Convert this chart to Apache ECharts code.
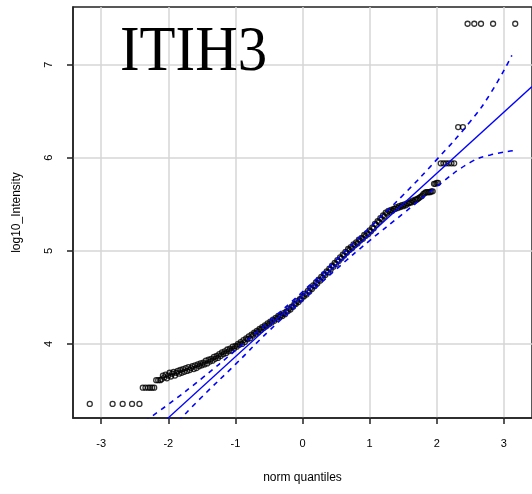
<!DOCTYPE html>
<html>
<head>
<meta charset="utf-8">
<script src="https://cdn.jsdelivr.net/npm/echarts@6/dist/echarts.min.js"></script>
<style>html,body{margin:0;padding:0;background:#fff}#c{width:532px;height:494px}</style>
</head>
<body>
<div id="c"></div>
<script>
// Theoretical normal quantiles (x) and sample values (y)
var qx = [-3.17,-2.83,-2.68,-2.54,-2.43,
  -2.38,-2.34,-2.30,-2.27,-2.24,-2.21,-2.18,-2.15,-2.12,
  -2.10,-2.08,-2.06,-2.04,-2.02,-2.00,-1.98,-1.96,-1.94,-1.92,-1.90,-1.88,-1.86,-1.84,-1.82,-1.80,-1.78,-1.76,-1.74,-1.72,
  -1.70,-1.68,-1.66,-1.64,-1.62,-1.60,-1.58,-1.56,-1.54,-1.52,-1.50,-1.48,-1.46,-1.44,-1.42,-1.40,-1.38,-1.36,-1.34,-1.32,
  -1.30,-1.28,-1.26,-1.24,-1.22,-1.20,-1.18,-1.16,-1.14,-1.12,-1.10,-1.08,-1.06,-1.04,-1.02,-1.00,
  -0.98,-0.96,-0.94,-0.92,-0.90,-0.88,-0.86,-0.84,-0.82,-0.80,-0.78,-0.76,-0.74,-0.72,-0.70,-0.68,-0.66,-0.64,-0.62,-0.60,
  -0.58,-0.56,-0.54,-0.52,-0.50,-0.48,-0.46,-0.44,-0.42,-0.40,-0.38,-0.36,-0.34,-0.32,-0.30,-0.28,-0.26,-0.24,-0.22,-0.20,
  -0.18,-0.16,-0.14,-0.12,-0.10,-0.08,-0.06,-0.04,-0.02,0.00,
  0.02,0.04,0.06,0.08,0.10,0.12,0.14,0.16,0.18,0.20,0.22,0.24,0.26,0.28,0.30,0.32,0.34,0.36,0.38,0.40,
  0.42,0.44,0.46,0.48,0.50,0.52,0.54,0.56,0.58,0.60,0.62,0.64,0.66,0.68,0.70,0.72,0.74,0.76,0.78,0.80,
  0.82,0.84,0.86,0.88,0.90,0.92,0.94,0.96,0.98,1.00,
  1.02,1.04,1.06,1.08,1.10,1.12,1.14,1.16,1.18,1.20,1.22,1.24,1.26,1.28,1.30,1.32,1.34,1.36,1.38,1.40,
  1.42,1.44,1.46,1.48,1.50,1.52,1.54,1.56,1.58,1.60,1.62,1.64,1.66,1.68,1.70,1.72,1.74,1.76,1.78,1.80,
  1.82,1.84,1.86,1.88,1.90,1.92,1.94,1.96,1.98,2.00,2.02,
  2.06,2.10,2.14,2.18,2.22,2.26,2.32,2.39,2.46,2.56,2.66,2.84,3.17];
var qy = [3.355,3.355,3.355,3.355,3.355,
  3.53,3.53,3.53,3.53,3.53,3.53,3.61,3.61,3.61,
  3.62,3.66,3.64,3.67,3.63,3.66,3.69,3.65,3.68,3.70,3.66,3.69,3.71,3.68,3.72,3.69,3.73,3.70,3.74,3.71,
  3.75,3.72,3.74,3.76,3.73,3.77,3.74,3.78,3.76,3.79,3.77,3.80,3.78,3.82,3.79,3.83,3.81,3.84,3.82,3.86,
  3.84,3.87,3.85,3.89,3.87,3.91,3.89,3.92,3.90,3.94,3.92,3.95,3.93,3.97,3.95,3.98,
  3.97,4.00,3.99,4.02,4.00,4.04,4.02,4.06,4.05,4.08,4.06,4.10,4.09,4.12,4.11,4.14,4.13,4.16,4.15,4.18,
  4.17,4.20,4.19,4.22,4.21,4.24,4.23,4.26,4.25,4.28,4.27,4.30,4.29,4.31,4.30,4.33,4.32,4.35,4.35,4.38,
  4.37,4.40,4.40,4.43,4.43,4.46,4.45,4.48,4.48,4.51,
  4.51,4.54,4.53,4.57,4.56,4.60,4.59,4.63,4.62,4.66,4.65,4.69,4.68,4.72,4.71,4.75,4.74,4.78,4.77,4.81,
  4.80,4.84,4.83,4.87,4.86,4.90,4.89,4.93,4.92,4.96,4.95,4.99,4.98,5.02,5.01,5.04,5.03,5.07,5.06,5.09,
  5.08,5.12,5.11,5.14,5.13,5.17,5.16,5.19,5.18,5.22,
  5.21,5.25,5.24,5.29,5.28,5.32,5.31,5.35,5.34,5.38,5.37,5.41,5.40,5.43,5.42,5.44,5.43,5.45,5.45,5.47,
  5.46,5.48,5.47,5.49,5.48,5.50,5.49,5.51,5.51,5.52,5.52,5.54,5.53,5.55,5.55,5.56,5.57,5.58,5.59,5.61,
  5.62,5.63,5.63,5.63,5.63,5.64,5.64,5.72,5.72,5.73,5.73,
  5.94,5.94,5.94,5.94,5.94,5.94,6.33,6.33,7.44,7.44,7.44,7.44,7.44];

// Reference line (two ends)
var lineX = [-2.10, 3.42];
var lineY = [3.14, 6.765];

// Confidence envelope (dashed)
var upX = [-2.35,-2.00,-1.50,-1.00,-0.50,0.00,0.50,1.00,1.50,2.00,2.50,2.80,3.12];
var upY = [3.17,3.35,3.63,3.93,4.24,4.56,4.90,5.25,5.60,5.98,6.39,6.69,7.10];
var loX = [-1.85,-1.50,-1.00,-0.50,0.00,0.50,1.00,1.50,2.00,2.50,2.80,3.18];
var loY = [3.17,3.43,3.78,4.14,4.47,4.80,5.11,5.40,5.69,5.95,6.03,6.08];

var xTicks = [-3,-2,-1,0,1,2,3];
var yTicks = [4,5,6,7];

function zip(a,b){var r=[];for(var i=0;i<a.length;i++)r.push([a[i],b[i]]);return r;}

var chart = echarts.init(document.getElementById('c'), null, {renderer:'canvas'});
var tickFont = {color:'#000', fontFamily:'Liberation Sans, Arial, sans-serif', fontSize:11};
chart.setOption({
  animation:false,
  backgroundColor:'#fff',
  graphic:[{type:'text', x:120, y:53, scaleX:0.92, z:10,
    style:{text:'ITIH3', fill:'#000', font:'64px "Liberation Serif", "Times New Roman", serif',
      align:'left', verticalAlign:'middle'}}],
  grid:{left:73, top:7, right:-3, bottom:76, show:true, borderColor:'#222', borderWidth:1.5, backgroundColor:'transparent'},
  xAxis:{type:'value', min:-3.42, max:3.42,
    name:'norm quantiles', nameLocation:'middle', nameGap:54,
    nameTextStyle:{color:'#000', fontFamily:'Liberation Sans, Arial, sans-serif', fontSize:12},
    axisLine:{show:true, onZero:false, lineStyle:{color:'#222', width:1.5}},
    axisTick:{show:true, length:6, customValues:xTicks, lineStyle:{color:'#222', width:1.5}},
    axisLabel:Object.assign({margin:20, customValues:xTicks}, tickFont),
    splitLine:{show:true, lineStyle:{color:'#d6d6d6', width:1.5}}
  },
  yAxis:{type:'value', min:3.204, max:7.62,
    name:'log10_Intensity', nameLocation:'middle', nameGap:50,
    nameTextStyle:{color:'#000', fontFamily:'Liberation Sans, Arial, sans-serif', fontSize:12},
    axisLine:{show:true, onZero:false, lineStyle:{color:'#222', width:1.5}},
    axisTick:{show:true, length:6, customValues:yTicks, lineStyle:{color:'#222', width:1.5}},
    axisLabel:Object.assign({margin:19, rotate:90, customValues:yTicks}, tickFont),
    splitLine:{show:true, lineStyle:{color:'#d6d6d6', width:1.5}}
  },
  series:[
    {type:'scatter', data:zip(qx,qy), symbol:'circle', symbolSize:5,
      itemStyle:{color:'rgba(0,0,0,0)', borderColor:'#000', borderWidth:1.3}, z:2},
    {type:'line', data:zip(lineX,lineY), symbol:'none', clip:true,
      lineStyle:{color:'#0000ff', width:1.3}, z:3},
    {type:'line', data:zip(upX,upY), symbol:'none', smooth:true, clip:true,
      lineStyle:{color:'#0000ff', width:1.6, type:[5,5]}, z:3},
    {type:'line', data:zip(loX,loY), symbol:'none', smooth:true, clip:true,
      lineStyle:{color:'#0000ff', width:1.6, type:[5,5]}, z:3}
  ]
});
</script>
</body>
</html>
